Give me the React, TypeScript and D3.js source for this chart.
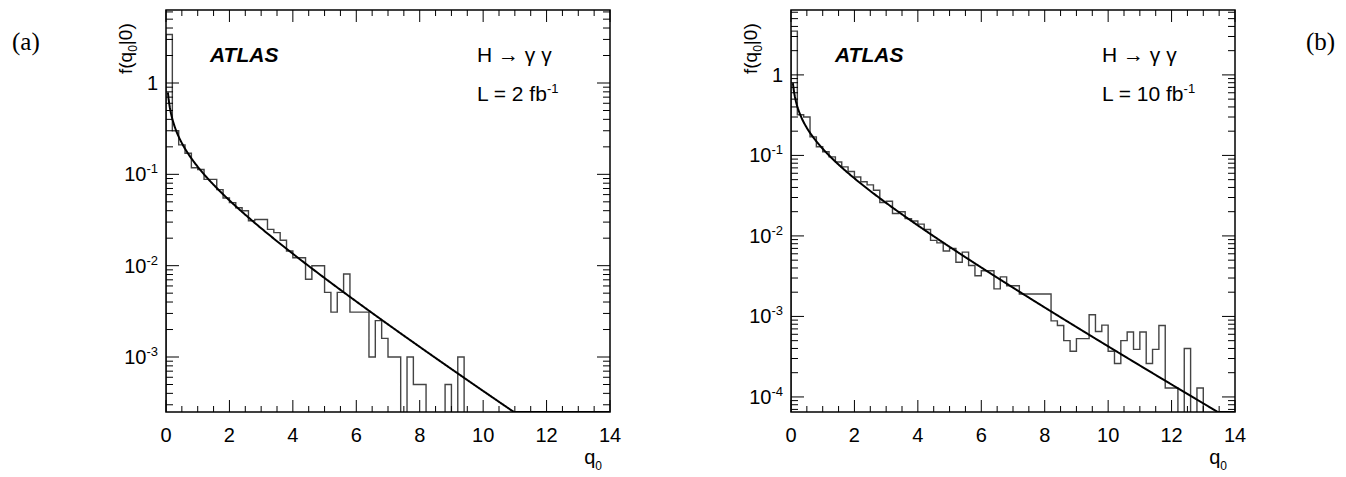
import React from "react";
import * as d3 from "d3";

const binWidth = 0.2;
const histA = [3.4,0.30,0.21,0.17,0.118,0.113,0.088,0.088,0.068,0.055,0.049,0.043,0.040,0.031,0.032,0.032,0.025,0.023,0.019,0.0145,0.0122,0.0122,0.0071,0.010,0.010,0.0051,0.0031,0.0051,0.0081,0.0031,0.0031,0.0031,0.001,0.0025,0.0016,0.001,0.001,0,0.001,0.0005,0.0005,0,0,0,0.0005,0,0.001,0,0,0,0,0,0,0,0,0,0,0,0,0,0,0,0,0,0,0,0,0,0,0];
const histB = [3.5,0.32,0.30,0.17,0.128,0.111,0.096,0.083,0.072,0.063,0.054,0.047,0.043,0.037,0.026,0.027,0.019,0.020,0.0164,0.0153,0.014,0.012,0.0088,0.0082,0.0065,0.0070,0.0047,0.0063,0.0043,0.0032,0.0037,0.0037,0.0022,0.0031,0.0024,0.0024,0.0019,0.0019,0.0019,0.0019,0.0019,0.00088,0.00077,0.0005,0.00037,0.00053,0.00053,0.00105,0.00065,0.00078,0.00037,0.00026,0.0005,0.00064,0.00039,0.00064,0.00026,0.00039,0.00077,0.000129,0.000129,0,0.0004,0,0.000129,0,0,0,0,0];
const xTicks = [0, 2, 4, 6, 8, 10, 12, 14];
const exponentsA = [0, -1, -2, -3];
const exponentsB = [0, -1, -2, -3, -4];

// asymptotic distribution 1/2 * chi2(1 dof)
const theory = (q: number) => (0.5 / Math.sqrt(2 * Math.PI * q)) * Math.exp(-q / 2);

const FONT = "Liberation Sans, Arial, sans-serif";

function Panel({ x0, hist, yMin, yMax, exps, lumi }: { x0: number; hist: number[]; yMin: number; yMax: number; exps: number[]; lumi: string }) {
  const left = x0, right = x0 + 444, top = 10, bottom = 412;
  const x = d3.scaleLinear().domain([0, 14]).range([left, right]);
  const y = d3.scaleLog().domain([yMin, yMax]).range([bottom, top]).clamp(true);
  const clipId = "clip" + x0;
  let d = `M${x(0)},${bottom}`;
  hist.forEach((v, i) => {
    const yy = v > 0 ? y(v) : bottom + 2;
    d += `L${x(i * binWidth)},${yy}L${x((i + 1) * binWidth)},${yy}`;
  });
  d += `L${x(hist.length * binWidth)},${bottom}`;
  const qs = d3.range(0.06, 14, 0.02);
  const curve = d3.line<number>().x((q) => x(q)).y((q) => y(Math.max(theory(q), yMin * 0.5)))(qs) as string;
  const minor: number[] = [];
  for (let e = -5; e <= 1; e++) for (let k = 2; k <= 9; k++) { const v = k * Math.pow(10, e); if (v > yMin && v < yMax) minor.push(v); }
  const xMinor = d3.range(0.5, 14, 0.5).filter((v) => v % 2 !== 0);
  return (
    <g>
      <defs>
        <clipPath id={clipId}><rect x={left} y={top} width={right - left} height={bottom - top} /></clipPath>
      </defs>
      <g clipPath={`url(#${clipId})`}>
        <path d={d} fill="none" stroke="#444" strokeWidth={1.4} />
        <path d={curve} fill="none" stroke="#000" strokeWidth={2} />
      </g>
      <rect x={left} y={top} width={right - left} height={bottom - top} fill="none" stroke="#000" strokeWidth={1.5} />
      {xTicks.map((t) => (
        <g key={"xt" + t}>
          <line x1={x(t)} x2={x(t)} y1={bottom} y2={bottom - 12} stroke="#000" />
          <line x1={x(t)} x2={x(t)} y1={top} y2={top + 12} stroke="#000" />
          <text x={x(t)} y={bottom + 30} textAnchor="middle" fontFamily={FONT} fontSize={20}>{t}</text>
        </g>
      ))}
      {xMinor.map((t) => (
        <g key={"xm" + t}>
          <line x1={x(t)} x2={x(t)} y1={bottom} y2={bottom - 6} stroke="#000" />
          <line x1={x(t)} x2={x(t)} y1={top} y2={top + 6} stroke="#000" />
        </g>
      ))}
      {exps.map((e) => {
        const yy = y(Math.pow(10, e));
        return (
          <g key={"ye" + e}>
            <line x1={left} x2={left + 13} y1={yy} y2={yy} stroke="#000" />
            <line x1={right} x2={right - 13} y1={yy} y2={yy} stroke="#000" />
            {e === 0 ? (
              <text x={left - 8} y={yy + 7} textAnchor="end" fontFamily={FONT} fontSize={20}>1</text>
            ) : (
              <text x={left - 8} y={yy + 7} textAnchor="end" fontFamily={FONT} fontSize={20}>
                10<tspan dy={-8} fontSize={13}>{e}</tspan>
              </text>
            )}
          </g>
        );
      })}
      {minor.map((v, i) => (
        <g key={"ym" + i}>
          <line x1={left} x2={left + 7} y1={y(v)} y2={y(v)} stroke="#000" />
          <line x1={right} x2={right - 7} y1={y(v)} y2={y(v)} stroke="#000" />
        </g>
      ))}
      <text transform={`translate(${left - 34},${top + 64}) rotate(-90)`} fontFamily={FONT} fontSize={19}>
        f(q<tspan dy={5} fontSize={12}>0</tspan><tspan dy={-5}>|0)</tspan>
      </text>
      <text x={right - 8} y={bottom + 52} textAnchor="end" fontFamily={FONT} fontSize={20}>
        q<tspan dy={6} fontSize={12}>0</tspan>
      </text>
      <text x={left + 44} y={62} fontFamily={FONT} fontSize={21} fontWeight="bold" fontStyle="italic">ATLAS</text>
      <text x={left + 311} y={62} fontFamily={FONT} fontSize={21}>H → γ γ</text>
      <text x={left + 311} y={101} fontFamily={FONT} fontSize={21}>
        {lumi}<tspan dy={-8} fontSize={13}>-1</tspan>
      </text>
    </g>
  );
}

export default function App() {
  return (
    <svg width={1346} height={477} style={{ position: "absolute", left: 0, top: 0, background: "#fff" }}>
      <text x={12} y={50} fontFamily="Liberation Serif, serif" fontSize={25}>(a)</text>
      <text x={1306} y={50} fontFamily="Liberation Serif, serif" fontSize={25}>(b)</text>
      <Panel x0={166} hist={histA} yMin={2.5e-4} yMax={6.3} exps={exponentsA} lumi="L = 2 fb" />
      <Panel x0={791} hist={histB} yMin={6.5e-5} yMax={6.4} exps={exponentsB} lumi="L = 10 fb" />
    </svg>
  );
}
